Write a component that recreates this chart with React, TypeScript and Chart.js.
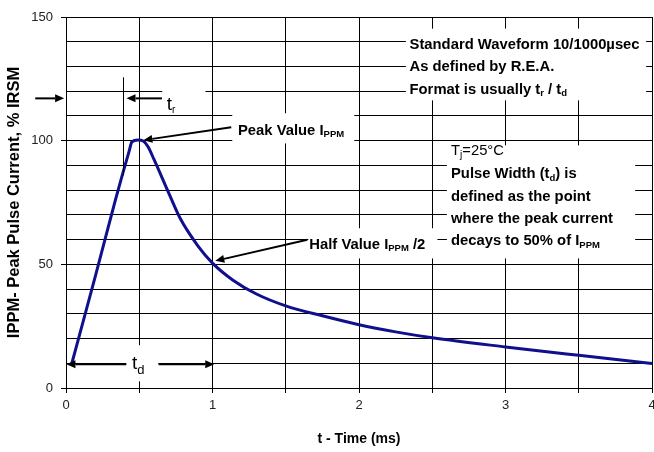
import React, { useEffect, useRef } from 'react';
import { Chart, registerables } from 'chart.js';

Chart.register(...registerables);

// ---- data ----
const timeMs = [0.04, 0.2, 0.337, 0.43, 0.45, 0.49, 0.53, 0.56, 0.6, 0.7, 0.78, 0.9, 1.0, 1.14, 1.3, 1.5, 1.75, 2.0, 2.25, 2.5, 3.0, 3.5, 4.0];
const currentPct = [10, 45.1, 76, 95.6, 99.5, 100.3, 99.8, 97.5, 92.5, 79, 68.5, 57.5, 50.5, 43.6, 38, 33.2, 29.2, 25.6, 22.7, 20.3, 16.6, 13.2, 9.9];

const xTickLabels = [0, 1, 2, 3, 4];
const yTickLabels = [0, 50, 100, 150];

const xTitle = 't - Time (ms)';
const yTitle = 'IPPM- Peak Pulse Current, % IRSM';

type Seg = [string, number];
const waveformNote: Seg[][] = [
  [['Standard Waveform 10/1000µsec', 0]],
  [['As defined by R.E.A.', 0]],
  [['Format is usually t', 0], ['r', 1], [' / t', 0], ['d', 1]],
];
const tjNote: Seg[][] = [
  [['T', 0], ['j', 1], ['=25°C', 0]],
  [['Pulse Width (t', 0], ['d', 1], [') is', 0]],
  [['defined as the point', 0]],
  [['where the peak current', 0]],
  [['decays to 50% of I', 0], ['PPM', 1]],
];
const peakNote: Seg[] = [['Peak Value I', 0], ['PPM', 1]];
const halfNote: Seg[] = [['Half Value I', 0], ['PPM', 1], [' /2', 0]];
const trNote: Seg[] = [['t', 0], ['r', 1]];
const tdNote: Seg[] = [['t', 0], ['d', 1]];

const FONT = "'Liberation Sans', Arial, sans-serif";

function drawRich(ctx: CanvasRenderingContext2D, segs: Seg[], x: number, y: number, main: string, sub: string, dy: number) {
  let cx = x;
  for (const [t, s] of segs) {
    ctx.font = s ? sub : main;
    ctx.fillText(t, cx, y + (s ? dy : 0));
    cx += ctx.measureText(t).width;
  }
}

function arrow(ctx: CanvasRenderingContext2D, x1: number, y1: number, x2: number, y2: number) {
  const a = Math.atan2(y2 - y1, x2 - x1);
  const L = 9, W = 4;
  const bx = x2 - L * Math.cos(a), by = y2 - L * Math.sin(a);
  ctx.beginPath();
  ctx.moveTo(x1, y1);
  ctx.lineTo(bx, by);
  ctx.lineWidth = 2;
  ctx.strokeStyle = '#000';
  ctx.stroke();
  ctx.beginPath();
  ctx.moveTo(x2, y2);
  ctx.lineTo(bx + W * Math.sin(a), by - W * Math.cos(a));
  ctx.lineTo(bx - W * Math.sin(a), by + W * Math.cos(a));
  ctx.closePath();
  ctx.fillStyle = '#000';
  ctx.fill();
}

const annotations = {
  id: 'annotations',
  afterDraw(chart: any) {
    const ctx: CanvasRenderingContext2D = chart.ctx;
    const xs = chart.scales.x, ys = chart.scales.y;
    const px = (v: number) => xs.getPixelForValue(v);
    const py = (v: number) => ys.getPixelForValue(v);
    const box = (x1: number, y1: number, x2: number, y2: number) => {
      ctx.fillStyle = '#fff';
      ctx.fillRect(px(x1), py(y1), px(x2) - px(x1), py(y2) - py(y1));
    };
    const bold = `bold 14.8px ${FONT}`;
    const subB = `bold 9.5px ${FONT}`;
    ctx.save();
    ctx.textBaseline = 'alphabetic';
    ctx.textAlign = 'left';

    // white label boxes
    box(2.32, 145.3, 3.96, 116.3);
    box(2.6, 98.1, 3.885, 52.4);
    box(1.654, 64.6, 2.535, 52.4);
    box(1.135, 111.1, 1.968, 98.9);
    box(0.657, 122.8, 0.952, 112.3);
    box(0.41, 17.3, 0.63, 2.7);

    const wBase = [137.2, 128.1, 119.0];
    waveformNote.forEach((segs, i) => {
      ctx.fillStyle = '#000';
      drawRich(ctx, segs, px(2.345), py(wBase[i]), bold, subB, 2);
    });
    const tBase = [94.1, 84.8, 75.8, 66.9, 57.7];
    tjNote.forEach((segs, i) => {
      ctx.fillStyle = '#000';
      const main = i === 0 ? `14.8px ${FONT}` : bold;
      const sub = i === 0 ? `10px ${FONT}` : subB;
      drawRich(ctx, segs, px(2.628), py(tBase[i]), main, sub, 3);
    });
    ctx.fillStyle = '#000';
    drawRich(ctx, peakNote, px(1.174), py(102.2), bold, subB, 1.5);
    drawRich(ctx, halfNote, px(1.661), py(56.0), bold, subB, 1.5);
    drawRich(ctx, trNote, px(0.688), py(112.3), `19px ${FONT}`, `10px ${FONT}`, 2.5);
    drawRich(ctx, tdNote, px(0.45), py(7.8), `19px ${FONT}`, `13px ${FONT}`, 5);

    // arrows
    arrow(ctx, px(1.128), py(105.4), px(0.528), py(100.2));
    arrow(ctx, px(1.647), py(59.9), px(1.019), py(51.4));
    arrow(ctx, px(-0.21), py(117.1), px(-0.013), py(117.1));
    arrow(ctx, px(0.655), py(117.1), px(0.413), py(117.1));
    arrow(ctx, px(0.412), py(9.6), px(0.003), py(9.6));
    arrow(ctx, px(0.632), py(9.6), px(1.012), py(9.6));

    // t_r marker line
    ctx.beginPath();
    ctx.lineWidth = 1;
    ctx.strokeStyle = '#000';
    const lx = Math.round(px(0.388)) + 0.5;
    ctx.moveTo(lx, py(125.6));
    ctx.lineTo(lx, py(86));
    ctx.stroke();
    ctx.restore();
  },
};

export default function App() {
  const ref = useRef<HTMLCanvasElement | null>(null);
  useEffect(() => {
    if (!ref.current) return;
    Chart.defaults.font.family = FONT;
    const chart = new Chart(ref.current, {
      type: 'scatter',
      data: {
        datasets: [
          {
            data: timeMs.map((t, i) => ({ x: t, y: currentPct[i] })),
            showLine: true,
            borderColor: '#10108c',
            borderWidth: 3,
            pointRadius: 0,
            cubicInterpolationMode: 'monotone',
            fill: false,
          },
        ],
      },
      options: {
        responsive: false,
        animation: false,
        events: [],
        layout: { padding: { left: 0, right: 2, top: 17, bottom: 0 } },
        plugins: { legend: { display: false }, tooltip: { enabled: false } },
        scales: {
          x: {
            type: 'linear',
            min: 0,
            max: 4,
            afterFit: (s: any) => { s.height = 64; s.paddingLeft = 0; s.paddingRight = 0; },
            grid: { color: '#000', lineWidth: 1, tickLength: 5, tickColor: '#000' },
            border: { color: '#000', width: 1 },
            ticks: {
              stepSize: 0.5,
              autoSkip: false,
              maxRotation: 0,
              padding: 5,
              color: '#222',
              font: { size: 13 },
              callback: (v: any) => (xTickLabels.includes(Number(v)) ? String(v) : ''),
            },
            title: { display: true, text: xTitle, color: '#000', font: { size: 14, weight: 'bold' }, padding: { top: 0, bottom: 4 } },
          },
          y: {
            type: 'linear',
            min: 0,
            max: 150,
            afterFit: (s: any) => { s.width = 66; s.paddingTop = 0; s.paddingBottom = 0; },
            grid: {
              color: '#000',
              lineWidth: 1,
              tickLength: 5,
              tickColor: (c: any) => (c.tick && yTickLabels.includes(c.tick.value) ? '#000' : 'rgba(0,0,0,0)'),
            },
            border: { color: '#000', width: 1 },
            ticks: {
              stepSize: 10,
              autoSkip: false,
              padding: 8,
              color: '#222',
              font: { size: 13 },
              callback: (v: any) => (yTickLabels.includes(Number(v)) ? String(v) : ''),
            },
            title: { display: true, text: yTitle, color: '#000', font: { size: 16.5, weight: 'bold' }, padding: { top: 5, bottom: 0 } },
          },
        },
      },
      plugins: [annotations],
    } as any);
    return () => chart.destroy();
  }, []);
  return (
    <div style={{ position: 'absolute', left: 0, top: 0, width: 654, height: 452, background: '#fff' }}>
      <canvas ref={ref} width={654} height={452} style={{ width: 654, height: 452, display: 'block' }} />
    </div>
  );
}
